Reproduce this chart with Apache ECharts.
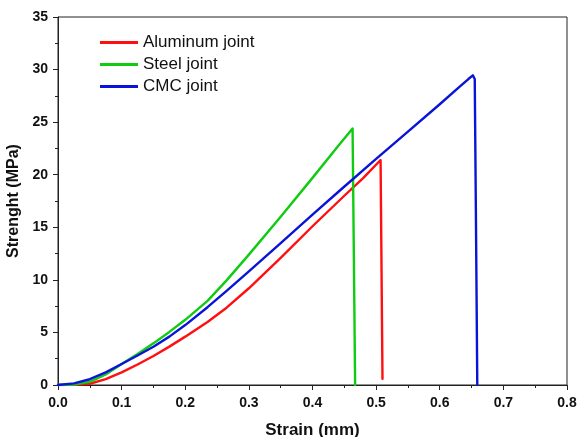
<!DOCTYPE html>
<html>
<head>
<meta charset="utf-8">
<script src="https://cdn.jsdelivr.net/npm/echarts@6/dist/echarts.min.js"></script>
<style>
html,body{margin:0;padding:0;background:#fff;}
#chart{width:579px;height:437px;}
</style>
</head>
<body>
<div id="chart"></div>
<script>
var seriesNames = ['Aluminum joint', 'Steel joint', 'CMC joint'];
var seriesColors = ['#ff1010', '#10cc10', '#0a14d8'];

var alStrain = [0, 0.025, 0.05, 0.075, 0.1, 0.125, 0.15, 0.175, 0.2, 0.235, 0.265, 0.3, 0.35, 0.4, 0.45, 0.48, 0.507, 0.51];
var alStress = [0, 0.02, 0.12, 0.55, 1.2, 1.95, 2.76, 3.65, 4.6, 6.0, 7.35, 9.2, 12.1, 15.1, 18.0, 19.7, 21.4, 0.6];

var stStrain = [0, 0.025, 0.05, 0.075, 0.1, 0.125, 0.15, 0.175, 0.2, 0.235, 0.265, 0.3, 0.35, 0.4, 0.44, 0.463, 0.467];
var stStress = [0, 0.05, 0.3, 1.0, 2.0, 2.95, 3.96, 5.05, 6.2, 8.0, 9.95, 12.4, 16.0, 19.7, 22.7, 24.4, 0];

var cmcStrain = [0, 0.025, 0.05, 0.075, 0.1, 0.125, 0.15, 0.175, 0.2, 0.235, 0.265, 0.3, 0.35, 0.4, 0.443, 0.5, 0.55, 0.6, 0.63, 0.645, 0.652, 0.655, 0.657, 0.659];
var cmcStress = [0, 0.15, 0.55, 1.2, 2.0, 2.8, 3.64, 4.6, 5.7, 7.4, 8.95, 10.8, 13.5, 16.2, 18.5, 21.5, 24.1, 26.7, 28.3, 29.1, 29.45, 29.1, 15, 0];

function pairs(xs, ys) {
  var out = [];
  for (var i = 0; i < xs.length; i++) out.push([xs[i], ys[i]]);
  return out;
}

var data = [pairs(alStrain, alStress), pairs(stStrain, stStress), pairs(cmcStrain, cmcStress)];

var chart = echarts.init(document.getElementById('chart'), null, {renderer: 'canvas'});
var FONT = 'Liberation Sans, Arial, sans-serif';
var axisFont = {fontFamily: FONT, fontWeight: 'bold', fontSize: 14, color: '#111'};

chart.setOption({
  backgroundColor: '#fff',
  animation: false,
  grid: {left: 58, right: 12, top: 17, bottom: 52, containLabel: false, outerBoundsMode: 'none',
         show: true, borderColor: '#222', borderWidth: 1, backgroundColor: 'transparent'},
  legend: {
    orient: 'vertical',
    left: 95,
    top: 29,
    itemWidth: 38,
    itemHeight: 3,
    itemGap: 5,
    icon: 'rect',
    textStyle: {fontFamily: FONT, fontSize: 17, color: '#111'},
    data: seriesNames
  },
  xAxis: {
    type: 'value', min: 0, max: 0.8, interval: 0.1,
    name: 'Strain (mm)', nameLocation: 'middle', nameGap: 37,
    nameTextStyle: {fontFamily: FONT, fontWeight: 'bold', fontSize: 17, color: '#111'},
    axisLine: {show: true, lineStyle: {color: '#222', width: 1}},
    axisTick: {show: true, length: 5, lineStyle: {color: '#222'}},
    minorTick: {show: true, splitNumber: 2, length: 3, lineStyle: {color: '#222'}},
    splitLine: {show: false},
    axisLabel: Object.assign({margin: 11, formatter: function (v) { return v.toFixed(1); }}, axisFont)
  },
  yAxis: {
    type: 'value', min: 0, max: 35, interval: 5,
    name: 'Strenght (MPa)', nameLocation: 'middle', nameGap: 26,
    nameTextStyle: {fontFamily: FONT, fontWeight: 'bold', fontSize: 16, color: '#111'},
    axisLine: {show: true, lineStyle: {color: '#222', width: 1}},
    axisTick: {show: true, length: 5, lineStyle: {color: '#222'}},
    minorTick: {show: true, splitNumber: 2, length: 3, lineStyle: {color: '#222'}},
    splitLine: {show: false},
    axisLabel: Object.assign({margin: 10}, axisFont)
  },
  series: seriesNames.map(function (n, i) {
    return {
      name: n, type: 'line', data: data[i], showSymbol: false, symbol: 'none',
      smooth: false,
      lineStyle: {color: seriesColors[i], width: 2.4, join: 'round', cap: 'round'}, itemStyle: {color: seriesColors[i]}
    };
  })
});
</script>
</body>
</html>
